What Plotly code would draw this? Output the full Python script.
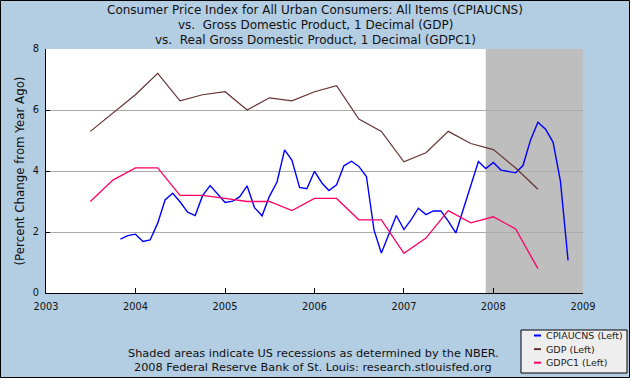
import plotly.graph_objects as go

# ---------------- data ----------------
cpi_dates = [
    "2003-11-01", "2003-12-01",
    "2004-01-01", "2004-02-01", "2004-03-01", "2004-04-01", "2004-05-01", "2004-06-01",
    "2004-07-01", "2004-08-01", "2004-09-01", "2004-10-01", "2004-11-01", "2004-12-01",
    "2005-01-01", "2005-02-01", "2005-03-01", "2005-04-01", "2005-05-01", "2005-06-01",
    "2005-07-01", "2005-08-01", "2005-09-01", "2005-10-01", "2005-11-01", "2005-12-01",
    "2006-01-01", "2006-02-01", "2006-03-01", "2006-04-01", "2006-05-01", "2006-06-01",
    "2006-07-01", "2006-08-01", "2006-09-01", "2006-10-01", "2006-11-01", "2006-12-01",
    "2007-01-01", "2007-02-01", "2007-03-01", "2007-04-01", "2007-05-01", "2007-06-01",
    "2007-07-01", "2007-08-01", "2007-09-01", "2007-10-01", "2007-11-01", "2007-12-01",
    "2008-01-01", "2008-02-01", "2008-03-01", "2008-04-01", "2008-05-01", "2008-06-01",
    "2008-07-01", "2008-08-01", "2008-09-01", "2008-10-01", "2008-11-01",
]
cpi_values = [
    1.77, 1.88,
    1.93, 1.69, 1.74, 2.29, 3.05, 3.27,
    2.99, 2.65, 2.54, 3.19, 3.52, 3.26,
    2.97, 3.01, 3.15, 3.51, 2.80, 2.53,
    3.17, 3.64, 4.69, 4.35, 3.46, 3.42,
    3.99, 3.60, 3.36, 3.55, 4.17, 4.32,
    4.15, 3.82, 2.06, 1.31, 1.97, 2.54,
    2.08, 2.42, 2.78, 2.57, 2.69, 2.69,
    2.36, 1.97, 2.76, 3.54, 4.31, 4.08,
    4.28, 4.03, 3.98, 3.94, 4.18, 5.02,
    5.60, 5.37, 4.94, 3.66, 1.07,
]

q_dates = [
    "2003-07-01", "2003-10-01",
    "2004-01-01", "2004-04-01", "2004-07-01", "2004-10-01",
    "2005-01-01", "2005-04-01", "2005-07-01", "2005-10-01",
    "2006-01-01", "2006-04-01", "2006-07-01", "2006-10-01",
    "2007-01-01", "2007-04-01", "2007-07-01", "2007-10-01",
    "2008-01-01", "2008-04-01", "2008-07-01",
]
gdp_values = [
    5.3, 5.9,
    6.5, 7.2, 6.3, 6.5,
    6.6, 6.0, 6.4, 6.3,
    6.6, 6.8, 5.7, 5.3,
    4.3, 4.6, 5.3, 4.9,
    4.7, 4.1, 3.4,
]
gdpc1_values = [
    3.0, 3.7,
    4.1, 4.1, 3.2, 3.2,
    3.1, 3.0, 3.0, 2.7,
    3.1, 3.1, 2.4, 2.4,
    1.3, 1.8, 2.7, 2.3,
    2.5, 2.1, 0.8,
]

series_names = ["CPIAUCNS (Left)", "GDP (Left)", "GDPC1 (Left)"]
series_colors = ["#0000FF", "#663333", "#FF0066"]

year_ticks = ["2003-01-01", "2004-01-01", "2005-01-01", "2006-01-01",
              "2007-01-01", "2008-01-01", "2009-01-01"]
year_labels = ["2003", "2004", "2005", "2006", "2007", "2008", "2009"]
y_ticks = [0, 2, 4, 6, 8]

recession_start = "2007-12-01"
recession_end = "2009-01-01"

title_lines = [
    "Consumer Price Index for All Urban Consumers: All Items (CPIAUCNS)",
    "vs.  Gross Domestic Product, 1 Decimal (GDP)",
    "vs.  Real Gross Domestic Product, 1 Decimal (GDPC1)",
]
footer_lines = [
    "Shaded areas indicate US recessions as determined by the NBER.",
    "2008 Federal Reserve Bank of St. Louis: research.stlouisfed.org",
]
y_title = "(Percent Change from Year Ago)"

# ---------------- figure ----------------
W, H = 630, 378
L, R, T, B = 46, 47, 49, 85
PW, PH = W - L - R, H - T - B

def px_x(x):
    return (x - L) / PW

def px_y(y):
    return (H - B - y) / PH

FONT = "DejaVu Sans"
BG = "#B3CDE3"
TXT = "#111111"

fig = go.Figure()
fig.add_trace(go.Scatter(x=cpi_dates, y=cpi_values, mode="lines", name=series_names[0],
                         line=dict(color=series_colors[0], width=1.4), showlegend=False))
fig.add_trace(go.Scatter(x=q_dates, y=gdp_values, mode="lines", name=series_names[1],
                         line=dict(color=series_colors[1], width=1.2), showlegend=False))
fig.add_trace(go.Scatter(x=q_dates, y=gdpc1_values, mode="lines", name=series_names[2],
                         line=dict(color=series_colors[2], width=1.3), showlegend=False))

shapes = [
    dict(type="rect", xref="x", yref="paper", x0=recession_start, x1=recession_end,
         y0=0, y1=1, fillcolor="#BEBEBE", line=dict(width=0), layer="below"),
    # outer frame
    dict(type="rect", xref="paper", yref="paper",
         x0=px_x(0.5), x1=px_x(W - 0.5), y0=px_y(H - 0.5), y1=px_y(0.5),
         line=dict(color="#000000", width=1), fillcolor="rgba(0,0,0,0)"),
]

annotations = []
for i, t in enumerate(title_lines):
    annotations.append(dict(text=t, xref="paper", yref="paper", x=px_x(315), y=px_y(10 + i * 15),
                            showarrow=False, xanchor="center", yanchor="middle",
                            font=dict(family=FONT, size=12, color=TXT)))
for i, t in enumerate(footer_lines):
    annotations.append(dict(text=t, xref="paper", yref="paper", x=px_x(313), y=px_y(353 + i * 14.5),
                            showarrow=False, xanchor="center", yanchor="middle",
                            font=dict(family=FONT, size=11.3, color=TXT)))
annotations.append(dict(text=y_title, xref="paper", yref="paper", x=px_x(19.5), y=px_y(171),
                        textangle=-90, showarrow=False, xanchor="center", yanchor="middle",
                        font=dict(family=FONT, size=11.8, color=TXT)))

# custom legend box
lx0, lx1, ly0, ly1 = 521, 627, 330, 373
shapes.append(dict(type="rect", xref="paper", yref="paper",
                   x0=px_x(lx0), x1=px_x(lx1), y0=px_y(ly1), y1=px_y(ly0),
                   fillcolor="#EEEEEE", line=dict(color="#000000", width=1)))
for i, (nm, col) in enumerate(zip(series_names, series_colors)):
    yy = 335.5 + i * 13.6
    shapes.append(dict(type="line", xref="paper", yref="paper",
                       x0=px_x(534), x1=px_x(541), y0=px_y(yy), y1=px_y(yy),
                       line=dict(color=col, width=2)))
    annotations.append(dict(text=nm, xref="paper", yref="paper", x=px_x(543.5), y=px_y(yy),
                            showarrow=False, xanchor="left", yanchor="middle",
                            font=dict(family=FONT, size=9.5, color="#222222")))

fig.update_layout(
    width=W, height=H,
    margin=dict(l=L, r=R, t=T, b=B, pad=0),
    paper_bgcolor=BG, plot_bgcolor="#FFFFFF",
    showlegend=False,
    shapes=shapes, annotations=annotations,
    font=dict(family=FONT, size=10, color=TXT),
)
fig.update_xaxes(type="date", range=[year_ticks[0], year_ticks[-1]],
                 tickvals=year_ticks, ticktext=year_labels,
                 ticks="inside", ticklen=5, tickcolor="#000000",
                 ticklabelstandoff=4,
                 showgrid=False, zeroline=False,
                 showline=True, linecolor="#000000", linewidth=1,
                 tickfont=dict(family=FONT, size=9.8, color=TXT))
fig.update_yaxes(range=[0, 8], tickvals=y_ticks, ticktext=[str(v) for v in y_ticks],
                 showgrid=True, gridcolor="#AAAAAA", gridwidth=1,
                 zeroline=False, showline=True, linecolor="#000000", linewidth=1,
                 ticks="inside", ticklen=4, tickcolor="#000000",
                 ticklabelstandoff=4,
                 tickfont=dict(family=FONT, size=9.8, color=TXT))

fig.write_html("out.html",
               config={"displayModeBar": False},
               post_script="document.body.style.margin='0';document.body.style.overflow='hidden';")
